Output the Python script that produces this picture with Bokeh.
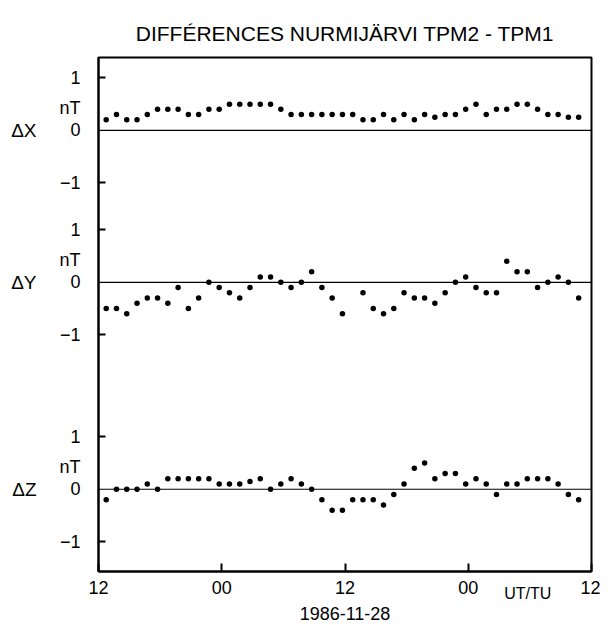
from bokeh.plotting import figure
from bokeh.models import Range1d, FixedTicker, Span, LinearAxis, Title
from bokeh.embed import file_html
from bokeh.resources import INLINE

nan = float("nan")

# hourly values, first point ~45 min after 12 UT (1986-11-27)
hours = [0.75 + i for i in range(47)]

dx = [0.2, 0.3, 0.2, 0.2, 0.3, 0.4, 0.4, 0.4, 0.3, 0.3, 0.4, 0.4, 0.5, 0.5, 0.5, 0.5,
      0.5, 0.4, 0.3, 0.3, 0.3, 0.3, 0.3, 0.3, 0.3, 0.2, 0.2, 0.3, 0.2, 0.3, 0.2, 0.3,
      0.25, 0.3, 0.3, 0.4, 0.5, 0.3, 0.4, 0.4, 0.5, 0.5, 0.4, 0.3, 0.3, 0.25, 0.25]

dy = [-0.5, -0.5, -0.6, -0.4, -0.3, -0.3, -0.4, -0.1, -0.5, -0.3, 0.0, -0.1, -0.2, -0.3,
      -0.1, 0.1, 0.1, 0.0, -0.1, 0.0, 0.2, -0.1, -0.3, -0.6, nan, -0.2, -0.5, -0.6, -0.5,
      -0.2, -0.3, -0.3, -0.4, -0.2, 0.0, 0.1, -0.1, -0.2, -0.2, 0.4, 0.2, 0.2, -0.1, 0.0,
      0.1, 0.0, -0.3]

dz = [-0.2, 0.0, 0.0, 0.0, 0.1, 0.0, 0.2, 0.2, 0.2, 0.2, 0.2, 0.1, 0.1, 0.1, 0.15, 0.2,
      0.0, 0.1, 0.2, 0.1, 0.0, -0.2, -0.4, -0.4, -0.2, -0.2, -0.2, -0.3, -0.1, 0.1, 0.4,
      0.5, 0.2, 0.3, 0.3, 0.1, 0.2, 0.1, -0.1, 0.1, 0.1, 0.2, 0.2, 0.2, 0.1, -0.1, -0.2]

x_ticks = [0, 12, 24, 36, 48]
x_tick_labels = ["12", "00", "12", "00", "12"]
y_tick_values = [1.0, 0.0, -1.0]
y_tick_labels = ["1", "0", "\u22121"]
panel_names = ["\u0394X", "\u0394Y", "\u0394Z"]
unit_label = "nT"
unit_pos = 0.42
title_text = "DIFF\u00c9RENCES NURMIJ\u00c4RVI TPM2 - TPM1"
date_text = "1986-11-28"
time_text = "UT/TU"
time_text_pos = 41.8

FONT = "Liberation Sans"

# vertical offsets of the three panels (in ΔX-panel units)
offsets = [0.0, -2.9, -6.85]
y0, y1 = -8.42, 1.39

p = figure(width=600, height=622, x_range=Range1d(0, 48), y_range=Range1d(y0, y1),
           output_backend="svg", toolbar_location=None,
           min_border_left=98, min_border_right=9, min_border_top=57, min_border_bottom=50)
p.extra_y_ranges = {
    "dy": Range1d(y0 - offsets[1], y1 - offsets[1]),
    "dz": Range1d(y0 - offsets[2], y1 - offsets[2]),
}
range_names = ["default", "dy", "dz"]

p.grid.visible = False
p.outline_line_color = "black"
p.outline_line_width = 2
p.background_fill_color = "white"
p.border_fill_color = "white"

p.title = Title(text=title_text, align="center", text_font=FONT, text_font_size="21px",
                text_font_style="normal", text_color="black", standoff=25)

for rn in range_names:
    p.add_layout(Span(location=0, dimension="width", y_range_name=rn,
                      line_color="black", line_width=1.2))

for series, rn in zip([dx, dy, dz], range_names):
    p.scatter(hours, series, y_range_name=rn, size=5.5, color="black", line_width=0)

# left axis: numeric labels + units as major labels, inward marks at ±1 as minor ticks
lab_ticks = []
lab_over = {}
mark_ticks = []
for off in offsets:
    for v, lab in zip(y_tick_values, y_tick_labels):
        t = round(v + off, 4)
        lab_ticks.append(t)
        lab_over[t] = lab
        if v != 0:
            mark_ticks.append(t)
    t = round(unit_pos + off, 4)
    lab_ticks.append(t)
    lab_over[t] = unit_label

yax = p.yaxis[0]
yax.ticker = FixedTicker(ticks=lab_ticks, minor_ticks=mark_ticks)
yax.major_label_overrides = lab_over
yax.axis_line_width = 2
yax.major_tick_line_color = None
yax.major_tick_in = 0
yax.major_tick_out = 0
yax.minor_tick_in = 7
yax.minor_tick_out = 0
yax.minor_tick_line_width = 2
yax.minor_tick_line_color = "black"
yax.major_label_text_font = FONT
yax.major_label_text_font_size = "18px"
yax.major_label_text_color = "black"
yax.major_label_standoff = 18

# outer left axis: panel names
name_ticks = [round(off, 4) for off in offsets]
ax_name = LinearAxis(ticker=FixedTicker(ticks=name_ticks, minor_ticks=[]),
                     major_label_overrides={t: n for t, n in zip(name_ticks, panel_names)},
                     axis_line_color=None, major_tick_line_color=None,
                     minor_tick_line_color=None,
                     major_tick_in=0, major_tick_out=0,
                     major_label_text_font=FONT, major_label_text_font_size="19px",
                     major_label_text_color="black", major_label_standoff=20)
p.add_layout(ax_name, "left")

# bottom axis with hour labels
xax = p.xaxis[0]
xax.ticker = FixedTicker(ticks=x_ticks, minor_ticks=[])
xax.major_label_overrides = {float(t): l for t, l in zip(x_ticks, x_tick_labels)}
xax.axis_line_width = 2
xax.major_tick_in = 8
xax.major_tick_out = 0
xax.major_tick_line_width = 2
xax.major_label_text_font = FONT
xax.major_label_text_font_size = "18px"
xax.major_label_standoff = 9
xax.major_label_text_color = "black"

# second bottom axis: time-system label and date
ax_date = LinearAxis(ticker=FixedTicker(ticks=[time_text_pos], minor_ticks=[]),
                     major_label_overrides={time_text_pos: time_text},
                     axis_line_color=None, major_tick_line_color=None,
                     minor_tick_line_color=None,
                     major_tick_in=0, major_tick_out=0,
                     major_label_text_font=FONT, major_label_text_font_size="16px",
                     major_label_text_color="black", major_label_standoff=-12,
                     axis_label=date_text, axis_label_text_font=FONT,
                     axis_label_text_font_size="18px", axis_label_text_font_style="normal",
                     axis_label_text_color="black", axis_label_standoff=2)
p.add_layout(ax_date, "below")

open("out.html", "w").write(file_html(p, INLINE))
